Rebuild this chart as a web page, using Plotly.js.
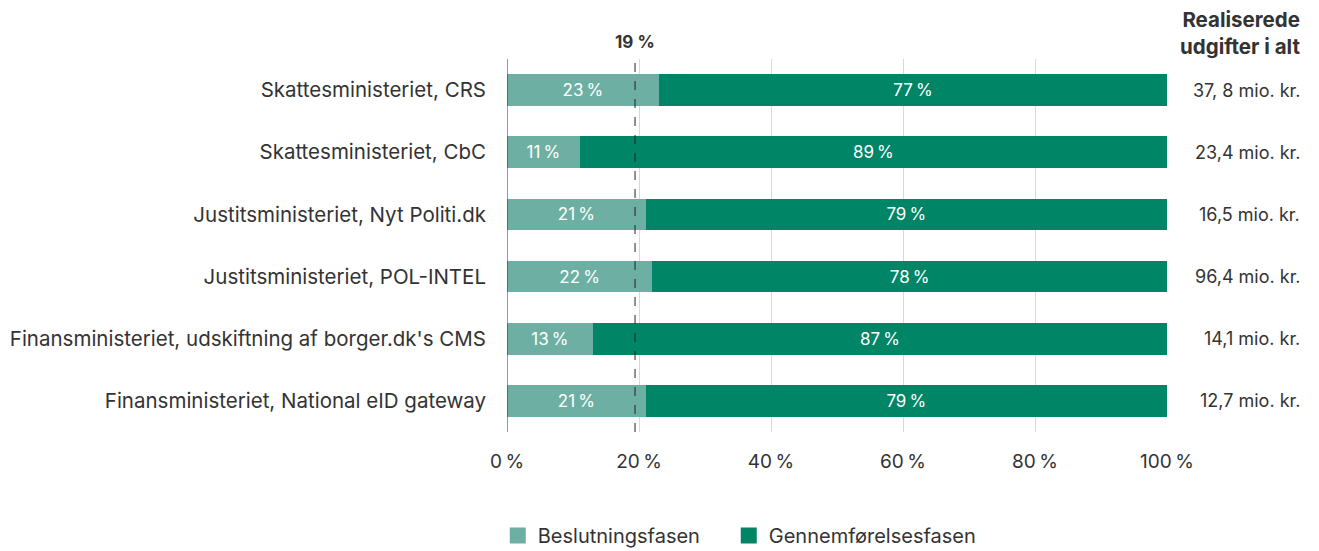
<!DOCTYPE html>
<html>
<head>
<meta charset="utf-8">
<script src="https://cdn.plot.ly/plotly-3.0.1.min.js"></script>
<style>
    body { margin: 0; background: #fff; }
    #chart { width: 1319px; height: 551px; }
</style>
</head>
<body>
<div id="chart"></div>
<script>
'use strict';

// data
const projects = [
    'Skattesministeriet, CRS',
    'Skattesministeriet, CbC',
    'Justitsministeriet, Nyt Politi.dk',
    'Justitsministeriet, POL-INTEL',
    "Finansministeriet, udskiftning af borger.dk's CMS",
    'Finansministeriet, National eID gateway',
];
const phases = ['Beslutningsfasen', 'Gennemførelsesfasen'];
const decisionShare = [23, 11, 21, 22, 13, 21];
const executionShare = [77, 89, 79, 78, 87, 79];
const totalSpend = [
    '37, 8 mio. kr.',
    '23,4 mio. kr.',
    '16,5 mio. kr.',
    '96,4 mio. kr.',
    '14,1 mio. kr.',
    '12,7 mio. kr.',
];
const averageDecision = 19.4;
const averageLabel = '19 %';
const xTicks = [0, 20, 40, 60, 80, 100];

const textColor = '#333333';
const lightGreen = 'rgb(109, 176, 163)';
const darkGreen = 'rgb(0, 133, 102)';
const fontFamily = 'Inter, "Noto Sans", sans-serif';

const barProps = {
    type: 'bar',
    orientation: 'h',
    y: projects,
    textposition: 'inside',
    insidetextanchor: 'middle',
    constraintext: 'none',
    texttemplate: '%{x}\u2009%',
    textfont: { color: '#ffffff', size: 17, family: fontFamily },
    hoverinfo: 'none',
    showlegend: false,
};

// legend entries drawn as big squares, like the reference
const legendProps = {
    type: 'scatter',
    mode: 'markers',
    x: [null],
    y: [null],
    hoverinfo: 'none',
};

const data = [
    {
        ...barProps,
        name: phases[0],
        x: decisionShare,
        marker: { color: lightGreen },
    },
    {
        ...barProps,
        name: phases[1],
        x: executionShare,
        marker: { color: darkGreen },
    },
    {
        ...legendProps,
        name: phases[0],
        legend: 'legend',
        marker: { color: lightGreen, symbol: 'square', size: 18 },
    },
    {
        ...legendProps,
        name: phases[1],
        legend: 'legend2',
        marker: { color: darkGreen, symbol: 'square', size: 18 },
    },
];

// value column on the right side
const annotations = totalSpend.map((txt, i) => ({
    xref: 'paper',
    yref: 'y',
    x: 1.2045,
    y: projects[i],
    xanchor: 'right',
    yanchor: 'middle',
    text: txt,
    showarrow: false,
    font: { size: 18, color: textColor, family: fontFamily },
}));

annotations.push(
    {
        xref: 'paper',
        yref: 'paper',
        x: 1.2045,
        y: 1,
        xanchor: 'right',
        yanchor: 'bottom',
        yshift: -2,
        align: 'right',
        text: '<b>Realiserede<br>udgifter i alt</b>',
        showarrow: false,
        font: { size: 20.5, color: textColor, family: fontFamily },
    },
    {
        xref: 'x',
        yref: 'paper',
        x: averageDecision,
        y: 1,
        xanchor: 'center',
        yanchor: 'bottom',
        yshift: 5,
        text: '<b>' + averageLabel + '</b>',
        showarrow: false,
        font: { size: 17, color: textColor, family: fontFamily },
    }
);

const legendStyle = {
    orientation: 'h',
    xanchor: 'left',
    y: -0.225,
    yanchor: 'top',
    font: { size: 20, color: textColor },
    itemwidth: 30,
};

const layout = {
    width: 1319,
    height: 551,
    margin: { l: 507, r: 152, t: 59, b: 119, autoexpand: false },
    paper_bgcolor: '#ffffff',
    plot_bgcolor: '#ffffff',
    barmode: 'stack',
    bargap: 0.49,
    font: { family: fontFamily, color: textColor, size: 17 },
    showlegend: true,
    legend: { ...legendStyle, x: -0.014 },
    legend2: { ...legendStyle, x: 0.336 },
    xaxis: {
        range: [0, 100],
        tickvals: xTicks,
        ticktext: xTicks.map(v => v + '\u2009%'),
        showgrid: true,
        gridcolor: '#d9d9d9',
        gridwidth: 1,
        zeroline: false,
        showline: false,
        ticks: '',
        ticklabelstandoff: 16,
        tickfont: { size: 19, color: textColor },
        fixedrange: true,
    },
    yaxis: {
        autorange: 'reversed',
        showgrid: false,
        zeroline: false,
        showline: false,
        ticks: '',
        ticklabelstandoff: 20,
        tickfont: { size: 20.5, color: textColor },
        fixedrange: true,
    },
    shapes: [
        {
            type: 'line',
            xref: 'x',
            yref: 'paper',
            x0: 0,
            x1: 0,
            y0: 0,
            y1: 1,
            line: { color: '#333333', width: 1 },
        },
        {
            type: 'line',
            xref: 'x',
            yref: 'paper',
            x0: averageDecision,
            x1: averageDecision,
            y0: 0,
            y1: 1,
            layer: 'above',
            line: { color: '#222222', width: 1, dash: 'dash' },
        },
    ],
    annotations: annotations,
};

Plotly.newPlot('chart', data, layout, { displayModeBar: false, staticPlot: true });
</script>
</body>
</html>
